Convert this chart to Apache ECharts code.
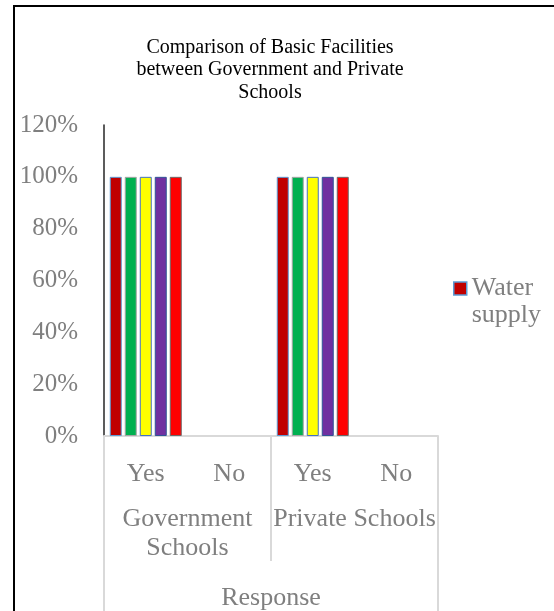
<!DOCTYPE html>
<html>
<head>
<meta charset="utf-8">
<script src="https://cdn.jsdelivr.net/npm/echarts@6/dist/echarts.min.js"></script>
<style>
  html, body { margin: 0; padding: 0; background: #fff; }
  #chart { width: 554px; height: 611px; }
</style>
</head>
<body>
<div id="chart"></div>
<script>
// Response categories (inner level) and school types (outer level)
const responses = ['Yes', 'No', 'Yes', 'No'];
const schoolTypes = ['Government\nSchools', 'Private Schools'];
const axisTitle = ['Response'];

// Facility series, values in percent for each response slot
const seriesNames = ['Water supply', 'Series 2', 'Series 3', 'Series 4', 'Series 5'];
const waterSupply = [100, 0, 100, 0];
const series2 = [100, 0, 100, 0];
const series3 = [100, 0, 100, 0];
const series4 = [100, 0, 100, 0];
const series5 = [100, 0, 100, 0];

const yTicks = { min: 0, max: 120, interval: 20 };

const fills = ['#C00000', '#00B050', '#FFFF00', '#7030A0', '#FF0000'];
const borders = ['#5B9BD5', '#A5A5A5', '#4472C4', '#2F5597', '#6A6A6A'];

const FONT = '"Liberation Serif", "Times New Roman", serif';
const GREY = '#7F7F7F';
const RULE = '#D9D9D9';

const values = [waterSupply, series2, series3, series4, series5];

const chart = echarts.init(document.getElementById('chart'), null, { renderer: 'canvas' });

chart.setOption({
  backgroundColor: '#ffffff',
  animation: false,
  title: {
    text: 'Comparison of Basic Facilities\nbetween Government and Private\nSchools',
    left: 270,
    top: 36,
    padding: 0,
    textAlign: 'center',
    textStyle: { fontFamily: FONT, fontSize: 20, fontWeight: 'normal', color: '#000', lineHeight: 22.5 }
  },
  graphic: [{
    type: 'rect',
    shape: { x: 14, y: 6, width: 600, height: 700 },
    style: { fill: 'none', stroke: '#000', lineWidth: 2 },
    silent: true
  }],
  legend: {
    data: ['Water supply'],
    left: 453,
    top: 248,
    padding: 0,
    orient: 'vertical',
    icon: 'rect',
    itemWidth: 13,
    itemHeight: 13,
    itemGap: 0,
    // empty first line keeps the marker level with "Water"
    formatter: () => '\u00a0\nWater\nsupply',
    textStyle: { fontFamily: FONT, fontSize: 26, color: GREY, lineHeight: 27 },
    itemStyle: { borderColor: '#5B9BD5', borderWidth: 1.5 }
  },
  grid: { left: 104, top: 125, right: 116, bottom: 171, containLabel: false },
  yAxis: {
    type: 'value',
    min: yTicks.min, max: yTicks.max, interval: yTicks.interval,
    axisLine: { show: true, lineStyle: { color: '#262626', width: 1.5 } },
    axisTick: { show: false },
    splitLine: { show: false },
    axisLabel: { formatter: '{value}%', margin: 26, fontFamily: FONT, fontSize: 25, color: GREY }
  },
  xAxis: [
    {
      type: 'category',
      data: responses,
      position: 'bottom',
      axisLine: { show: true, lineStyle: { color: RULE, width: 2 } },
      axisTick: { show: false },
      axisLabel: { margin: 25, fontFamily: FONT, fontSize: 26, color: GREY, interval: 0 }
    },
    {
      type: 'category',
      data: schoolTypes,
      position: 'bottom',
      offset: 0,
      axisLine: { show: false },
      axisTick: { show: true, length: 125, interval: 0, lineStyle: { color: RULE, width: 2 } },
      axisLabel: { margin: 69, fontFamily: FONT, fontSize: 26, color: GREY, lineHeight: 29, interval: 0 }
    },
    {
      type: 'category',
      data: axisTitle,
      position: 'bottom',
      offset: 0,
      axisLine: { show: false },
      axisTick: { show: true, length: 200, interval: 0, lineStyle: { color: RULE, width: 2 } },
      axisLabel: { margin: 149, fontFamily: FONT, fontSize: 26, color: GREY }
    }
  ],
  series: values.map((v, i) => ({
    name: seriesNames[i],
    type: 'bar',
    xAxisIndex: 0,
    // zero-height bars carry no outline
    data: v.map(val => ({ value: val, itemStyle: { borderWidth: val === 0 ? 0 : 1 } })),
    barWidth: 12,
    barGap: '25%',
    itemStyle: { color: fills[i], borderColor: borders[i], borderWidth: 1 }
  }))
});
</script>
</body>
</html>
